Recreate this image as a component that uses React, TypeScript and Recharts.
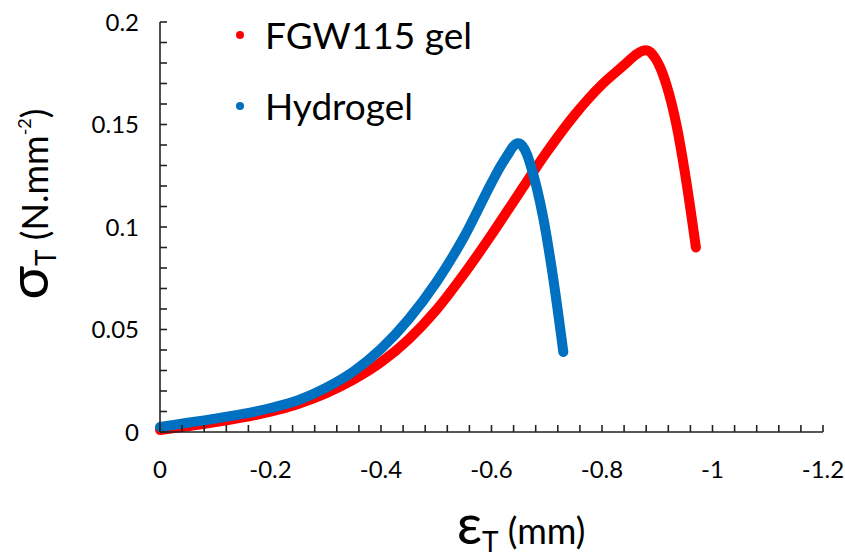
import React from "react";
import { LineChart, Line, XAxis, YAxis, Legend } from "recharts";

// FGW115 gel curve (strain in mm, stress in N/mm2)
const fgwStrain = [
  0, -0.05, -0.1, -0.15, -0.2, -0.25, -0.3, -0.35, -0.4, -0.45, -0.5, -0.55,
  -0.6, -0.65, -0.7, -0.75, -0.8, -0.84, -0.86, -0.872, -0.88, -0.888, -0.896,
  -0.905, -0.917, -0.935, -0.953, -0.97,
];
const fgwStress = [
  0.001, 0.0028, 0.0048, 0.0071, 0.0099, 0.0137, 0.0188, 0.0255, 0.034,
  0.0452, 0.0595, 0.077, 0.0962, 0.1165, 0.1365, 0.1545, 0.1695, 0.179,
  0.1838, 0.1858, 0.1862, 0.1852, 0.1825, 0.178, 0.169, 0.1495, 0.1215, 0.09,
];

// Hydrogel curve
const hydroStrain = [
  0, -0.05, -0.1, -0.15, -0.2, -0.25, -0.3, -0.35, -0.4, -0.45, -0.5, -0.55,
  -0.6, -0.615, -0.63, -0.64, -0.648, -0.656, -0.664, -0.672, -0.682, -0.694,
  -0.71, -0.73,
];
const hydroStress = [
  0.0025, 0.0045, 0.0065, 0.0088, 0.0117, 0.0155, 0.0215, 0.0295, 0.0405,
  0.055, 0.073, 0.095, 0.1215, 0.129, 0.1355, 0.1395, 0.1408, 0.1395, 0.1355,
  0.129, 0.119, 0.104, 0.078, 0.039,
];

const seriesNames = ["FGW115 gel", "Hydrogel"];
const seriesColors = ["#ff0000", "#0070c0"];

const xTickLabels = [0, -0.2, -0.4, -0.6, -0.8, -1, -1.2];
const yTickLabels = [0, 0.05, 0.1, 0.15, 0.2];

const fgwData = fgwStrain.map((x, i) => ({ x, y: fgwStress[i] }));
const hydroData = hydroStrain.map((x, i) => ({ x, y: hydroStress[i] }));

// five minor divisions between major ticks, like the Excel default
const withMinor = (major: number[]) =>
  major.flatMap((v, i) => {
    if (i === major.length - 1) return [v];
    const step = (major[i + 1] - v) / 5;
    return [0, 1, 2, 3, 4].map((k) => Math.round((v + k * step) * 1e6) / 1e6);
  });

const xTicks = withMinor(xTickLabels);
const yTicks = withMinor(yTickLabels);

const isMajor = (list: number[], v: number) =>
  list.some((t) => Math.abs(t - v) < 1e-9);

const font = "Lato, 'Open Sans', sans-serif";
const axisColor = "#222";
const TICK = 7; // inward tick length

// tick props arrive at the inner end of the tick line (tickSize is negative)
const XTick = (props: any) => {
  const { x, y, payload } = props;
  if (!isMajor(xTickLabels, payload.value)) return <g />;
  return (
    <text x={x} y={y + TICK + 46} textAnchor="middle" fontSize={24} fontFamily={font} fill="#000">
      {String(payload.value)}
    </text>
  );
};

const YTick = (props: any) => {
  const { x, y, payload } = props;
  if (!isMajor(yTickLabels, payload.value)) return <g />;
  return (
    <text x={x - TICK - 21} y={y + 8.5} textAnchor="end" fontSize={24} fontFamily={font} fill="#000">
      {String(payload.value)}
    </text>
  );
};

const LegendBox = () => (
  <div style={{ fontFamily: font }}>
    {seriesNames.map((name, i) => (
      <div key={name} style={{ display: "flex", alignItems: "center", height: 71 }}>
        <span
          style={{
            display: "inline-block",
            width: 8,
            height: 8,
            borderRadius: 4,
            background: seriesColors[i],
          }}
        />
        <span style={{ marginLeft: 21, fontSize: 37, color: "#000", lineHeight: "71px" }}>{name}</span>
      </div>
    ))}
  </div>
);

export default function App() {
  return (
    <div style={{ position: "absolute", left: 0, top: 0, width: 845, height: 557, background: "#fff" }}>
      <LineChart width={845} height={557} margin={{ top: 22, right: 22, bottom: 0, left: 0 }}>
        <XAxis
          dataKey="x"
          type="number"
          domain={[-1.2, 0]}
          reversed
          ticks={xTicks}
          interval={0}
          tickSize={-TICK}
          tickMargin={0}
          tickLine={{ stroke: axisColor, strokeWidth: 1.6 }}
          tick={<XTick />}
          axisLine={{ stroke: axisColor, strokeWidth: 1.6 }}
          height={125}
        />
        <YAxis
          dataKey="y"
          type="number"
          domain={[0, 0.2]}
          ticks={yTicks}
          interval={0}
          tickSize={-TICK}
          tickMargin={0}
          tickLine={{ stroke: axisColor, strokeWidth: 1.6 }}
          tick={<YTick />}
          axisLine={{ stroke: axisColor, strokeWidth: 1.6 }}
          width={160}
        />
        <Legend
          layout="vertical"
          align="center"
          verticalAlign="middle"
          wrapperStyle={{ left: 236, top: -1, width: 330, height: 142 }}
          content={<LegendBox />}
        />
        <Line
          name={seriesNames[0]}
          data={fgwData}
          dataKey="y"
          type="monotone"
          stroke={seriesColors[0]}
          strokeWidth={10}
          strokeLinecap="round"
          strokeLinejoin="round"
          dot={false}
          activeDot={false}
          isAnimationActive={false}
        />
        <Line
          name={seriesNames[1]}
          data={hydroData}
          dataKey="y"
          type="monotone"
          stroke={seriesColors[1]}
          strokeWidth={10}
          strokeLinecap="round"
          strokeLinejoin="round"
          dot={false}
          activeDot={false}
          isAnimationActive={false}
        />
        <text transform="translate(48,204) rotate(-90)" textAnchor="middle" fontFamily={font} fill="#000">
          <tspan fontSize={56}>σ</tspan>
          <tspan fontSize={28} dy={8}>T</tspan>
          <tspan fontSize={36} dy={-8}> (N.mm</tspan>
          <tspan fontSize={18} dy={-17}>-2</tspan>
          <tspan fontSize={36} dy={17}>)</tspan>
        </text>
        <text x={521} y={544} textAnchor="middle" fontFamily={font} fill="#000">
          <tspan fontSize={56}>ε</tspan>
          <tspan fontSize={28} dy={8}>T</tspan>
          <tspan fontSize={36} dy={-8}> (mm)</tspan>
        </text>
      </LineChart>
    </div>
  );
}
